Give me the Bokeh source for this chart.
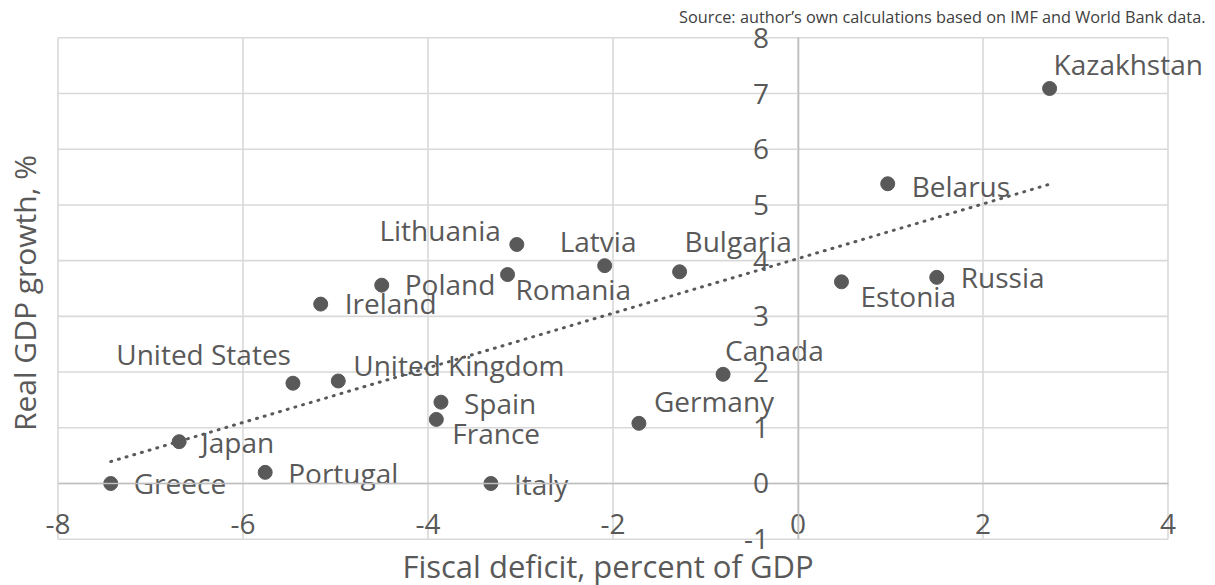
import numpy as np
from bokeh.plotting import figure
from bokeh.models import ColumnDataSource, LinearAxis, FixedTicker, Label, Range1d
from bokeh.core.properties import value
from bokeh.embed import file_html
from bokeh.resources import INLINE

# ---- data ----
countries = ["Kazakhstan", "Belarus", "Estonia", "Russia", "Canada", "Germany",
             "Bulgaria", "Latvia", "Lithuania", "Romania", "Poland", "Ireland",
             "United Kingdom", "United States", "Spain", "France", "Italy",
             "Japan", "Portugal", "Greece"]
fiscal_deficit = [2.72, 0.97, 0.47, 1.50, -0.81, -1.72,
                  -1.28, -2.09, -3.04, -3.14, -4.50, -5.16,
                  -4.97, -5.46, -3.86, -3.91, -3.32,
                  -6.69, -5.76, -7.43]
gdp_growth = [7.09, 5.38, 3.62, 3.70, 1.96, 1.08,
              3.80, 3.91, 4.29, 3.75, 3.56, 3.22,
              1.84, 1.80, 1.46, 1.15, 0.00,
              0.75, 0.20, 0.00]
x_ticks = [-8, -6, -4, -2, 0, 2, 4]
y_ticks = [-1, 0, 1, 2, 3, 4, 5, 6, 7, 8]

x_title = "Fiscal deficit, percent of GDP"
y_title = "Real GDP growth, %"
source_note = "Source: author\u2019s own calculations based on IMF and World Bank data."

# ---- label placement (screen pixels, y down) ----
label_dx = [4, 24, 19, 24, 2, 15, 5, -45, -16, 8, 23, 24, 15, -2, 23, 16, 23, 22, 23, 23]
label_dy = [-14, 12, 24, 10, -14, -12, -21, -15, -4, 24, 9, 9, -6, -19, 11, 24, 11, 10, 11, 10]
label_dy = [d - 10 for d in label_dy]
label_align = ["left"] * 20
label_align[countries.index("Lithuania")] = "right"
label_align[countries.index("United States")] = "right"

GRAY = "#595959"
GRID = "#d9d9d9"
AXIS = "#bfbfbf"
FONT = "Open Sans"

# ---- layout: the frame fills the canvas, the plot box is drawn inside it ----
W, H = 1215, 585
box_left, box_right, box_top, box_bottom = 57.5, 1167.5, 37.3, 538.7
xmin, xmax = min(x_ticks), max(x_ticks)
ymin, ymax = min(y_ticks), max(y_ticks)
sx = (box_right - box_left) / (xmax - xmin)
sy = (box_bottom - box_top) / (ymax - ymin)
x_start = xmin - box_left / sx
x_end = x_start + W / sx
y_end = ymax + box_top / sy
y_start = y_end - H / sy

src = ColumnDataSource(dict(x=fiscal_deficit, y=gdp_growth, name=countries,
                            dx=label_dx, dy=label_dy, align=label_align))

p = figure(width=W, height=H, x_range=Range1d(x_start, x_end), y_range=Range1d(y_start, y_end),
           output_backend="svg", toolbar_location=None,
           x_axis_location=None, y_axis_location=None,
           min_border=0, min_border_left=0, min_border_right=0,
           min_border_top=0, min_border_bottom=0)
p.center = []
p.outline_line_color = None
p.background_fill_color = "white"
p.border_fill_color = "white"

# gridlines (also form the plot-area border)
p.segment(x0=x_ticks, x1=x_ticks, y0=[ymin] * len(x_ticks), y1=[ymax] * len(x_ticks),
          line_color=GRID, line_width=1.6)
p.segment(x0=[xmin] * len(y_ticks), x1=[xmax] * len(y_ticks), y0=y_ticks, y1=y_ticks,
          line_color=GRID, line_width=1.6)

def style_axis(ax):
    ax.major_tick_line_color = None
    ax.minor_tick_line_color = None
    ax.major_tick_out = 0
    ax.major_tick_in = 0
    ax.minor_tick_out = 0
    ax.minor_tick_in = 0
    ax.major_label_text_font = FONT
    ax.major_label_text_font_size = "28px"
    ax.major_label_text_color = GRAY
    ax.axis_label_text_font = FONT
    ax.axis_label_text_font_style = "normal"
    ax.axis_label_text_color = GRAY
    ax.axis_label_text_font_size = "30px"

# tick axes crossing at the origin
xax = LinearAxis(fixed_location=0, bounds=(xmin, xmax), ticker=FixedTicker(ticks=x_ticks),
                 major_label_overrides={t: str(t) for t in x_ticks})
style_axis(xax)
xax.axis_line_color = AXIS
xax.axis_line_width = 1.6
xax.major_label_standoff = 31
p.add_layout(xax, "below")

yax = LinearAxis(fixed_location=0, bounds=(ymin, ymax), ticker=FixedTicker(ticks=y_ticks),
                 major_label_overrides={t: str(t) for t in y_ticks})
style_axis(yax)
yax.axis_line_color = AXIS
yax.axis_line_width = 1.6
yax.major_label_standoff = 29
p.add_layout(yax, "left")

# axis titles, just outside the plot box
xt = LinearAxis(fixed_location=ymin, ticker=FixedTicker(ticks=[]), axis_label=x_title)
style_axis(xt)
xt.axis_line_color = None
xt.axis_label_text_font_size = "31px"
xt.axis_label_standoff = 5
p.add_layout(xt, "below")

yt = LinearAxis(fixed_location=xmin, ticker=FixedTicker(ticks=[]), axis_label=y_title)
style_axis(yt)
yt.axis_line_color = None
yt.axis_label_standoff = 14
p.add_layout(yt, "left")

# linear trend (least squares, over the data's x span)
coef = np.polyfit(fiscal_deficit, gdp_growth, 1)
tx = [min(fiscal_deficit), max(fiscal_deficit)]
ty = list(np.polyval(coef, tx))
p.line(tx, ty, line_color=GRAY, line_width=3, line_dash="1 7", line_cap="round")

p.scatter("x", "y", source=src, size=14, fill_color=GRAY, line_color=GRAY)

p.text("x", "y", text="name", source=src, x_offset="dx", y_offset="dy",
       text_align="align", text_baseline="alphabetic",
       text_font=value(FONT), text_font_size="28px", text_color=GRAY)

p.add_layout(Label(x=xmax, y=ymax, x_offset=37.5, y_offset=20.5, text=source_note,
                   text_align="right", text_baseline="alphabetic",
                   text_font=FONT, text_font_size="16.3px", text_color="#404040"))

open("out.html", "w").write(file_html(p, INLINE))
